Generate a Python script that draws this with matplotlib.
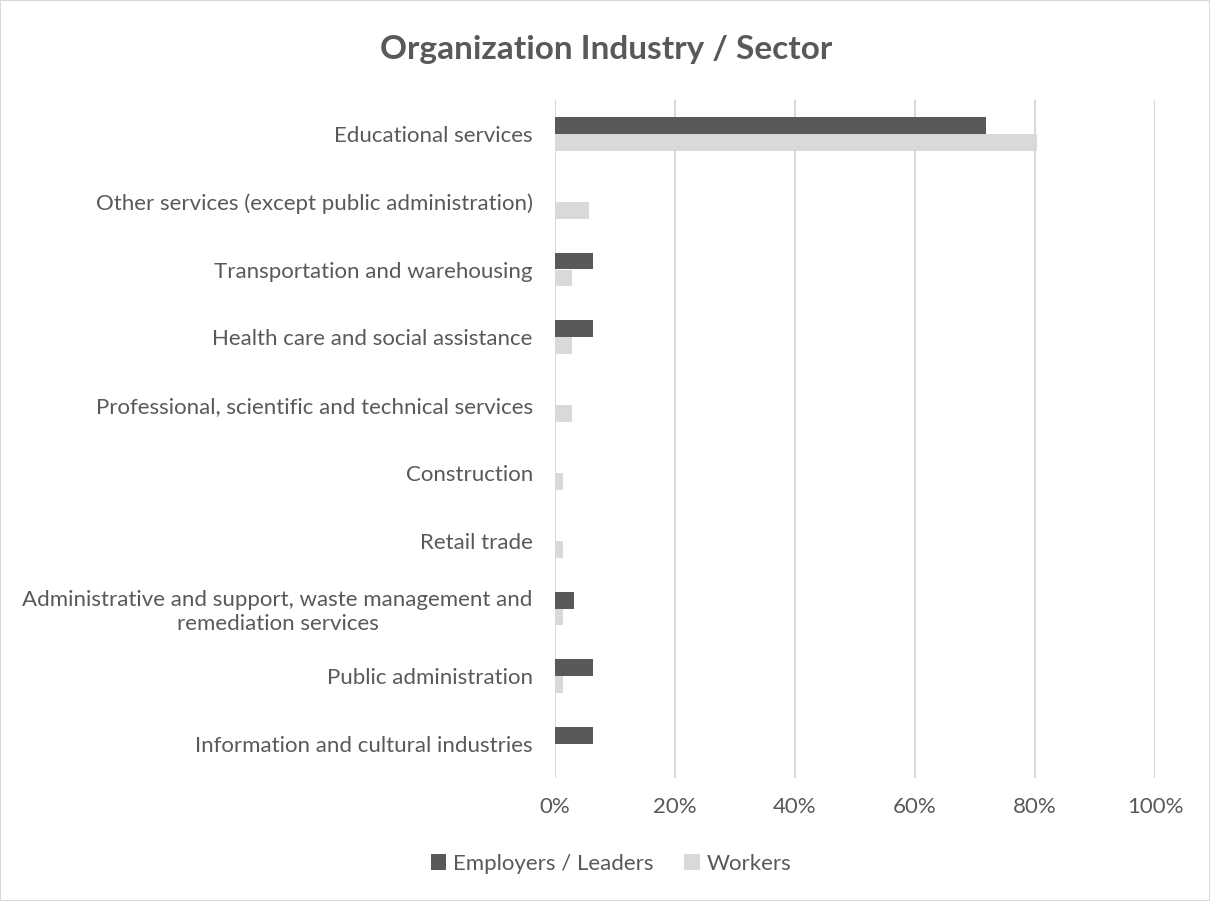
import numpy as np
import matplotlib.pyplot as plt
from matplotlib.patches import Rectangle

plt.rcParams['font.family'] = ['Lato', 'DejaVu Sans']

categories = [
    "Educational services",
    "Other services (except public administration)",
    "Transportation and warehousing",
    "Health care and social assistance",
    "Professional, scientific and technical services",
    "Construction",
    "Retail trade",
    "Administrative and support, waste management and\nremediation services",
    "Public administration",
    "Information and cultural industries",
]
employers = [71.9, 0, 6.25, 6.25, 0, 0, 0, 3.1, 6.25, 6.25]
workers = [80.3, 5.6, 2.8, 2.8, 2.8, 1.4, 1.4, 1.4, 1.4, 0]

dark = "#595959"
light = "#d9d9d9"
text_c = "#595959"

fig = plt.figure(figsize=(12.1, 9.01), dpi=100)
ax = fig.add_axes([555 / 1210, 1 - 778 / 901, 600 / 1210, 678 / 901])

y = np.arange(len(categories))
h = 0.25
ax.barh(y - h / 2, employers, height=h, color=dark, label="Employers / Leaders", zorder=3)
ax.barh(y + h / 2, workers, height=h, color=light, label="Workers", zorder=3)

ax.set_ylim(len(categories) - 0.5, -0.5)
ax.set_xlim(0, 100)
ax.set_xticks(np.arange(0, 101, 20))
ax.set_xticklabels([f"{v}%" for v in range(0, 101, 20)])
ax.set_yticks(y)
ax.set_yticklabels(categories, ha="right", multialignment="center")
ax.tick_params(length=0, labelsize=16, colors=text_c)
ax.tick_params(axis="x", pad=14)
ax.tick_params(axis="y", pad=16)
ax.grid(axis="x", color=light, linewidth=1.5, zorder=0)
for s in ax.spines.values():
    s.set_visible(False)

fig.text(606 / 1210, 1 - 50 / 901, "Organization Industry / Sector", ha="center", va="center",
         fontsize=24, fontweight="bold", color=text_c)

fig.legend(loc="center", bbox_to_anchor=(611 / 1210, 1 - 864 / 901), ncol=2, frameon=False,
           fontsize=16, labelcolor=text_c, handlelength=0.7, handleheight=0.7,
           columnspacing=1.4, handletextpad=0.3)

fig.patches.append(Rectangle((0, 0), 1, 1, transform=fig.transFigure, fill=False,
                             edgecolor=light, linewidth=1.5))

fig.savefig("out.png", dpi=100)
